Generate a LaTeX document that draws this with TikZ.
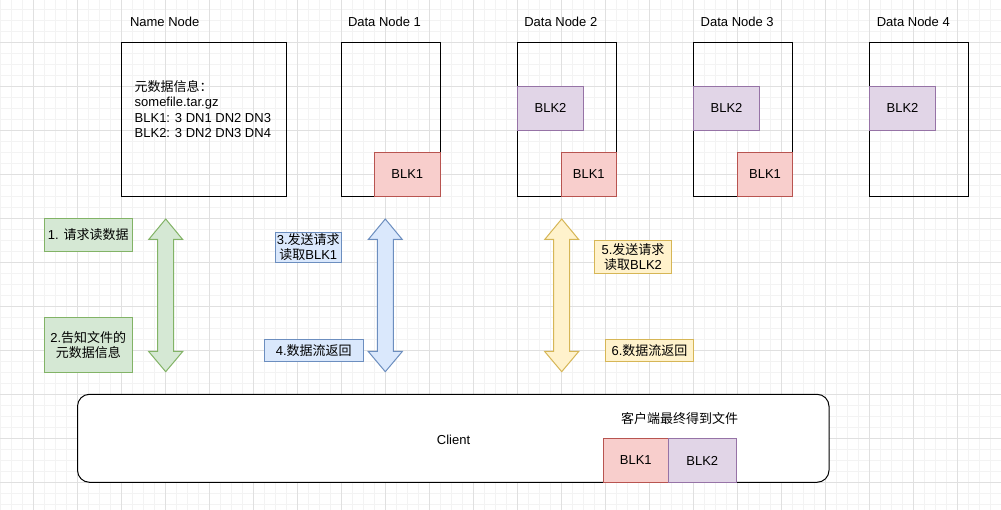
\documentclass[tikz,border=0pt]{standalone}
\usepackage{fontspec}
\setmainfont{Liberation Sans}
\newfontfamily\cjk{Noto Sans CJK SC}
\newcommand{\zh}[1]{{\cjk #1}}

\definecolor{gridmajor}{HTML}{E0E0E0}
\definecolor{gridminor}{HTML}{F3F3F3}
\definecolor{redfill}{HTML}{F8CECC}
\definecolor{redline}{HTML}{B85450}
\definecolor{purplefill}{HTML}{E1D5E7}
\definecolor{purpleline}{HTML}{9673A6}
\definecolor{greenfill}{HTML}{D5E8D4}
\definecolor{greenline}{HTML}{82B366}
\definecolor{bluefill}{HTML}{DAE8FC}
\definecolor{blueline}{HTML}{6C8EBF}
\definecolor{yellowfill}{HTML}{FFF2CC}
\definecolor{yellowline}{HTML}{D6B656}

\begin{document}
\begin{tikzpicture}[x=1pt,y=-1pt,
    every node/.style={font=\fontsize{13}{15.5}\selectfont},
    server/.style={draw,line width=1pt,inner sep=0pt,minimum height=154},
    blkone/.style={draw=redline,fill=redfill,line width=1pt,inner sep=0pt,minimum height=44},
    blktwo/.style={draw=purpleline,fill=purplefill,line width=1pt,inner sep=0pt,minimum height=44},
    note/.style={line width=1pt,inner sep=0pt,align=center}]

    \useasboundingbox (0,0) rectangle (1001,510);
    \fill[white] (0,0) rectangle (1001,510);

    % grid
    \foreach \x in {0,11,...,1001} \draw[gridminor,line width=1pt] (\x,0) -- (\x,510);
    \foreach \y in {9.5,20.5,...,510} \draw[gridminor,line width=1pt] (0,\y) -- (1001,\y);
    \foreach \x in {33,77,...,1001} \draw[gridmajor,line width=1pt] (\x,0) -- (\x,510);
    \foreach \y in {42.5,86.5,...,510} \draw[gridmajor,line width=1pt] (0,\y) -- (1001,\y);

    % servers
    \node[server,minimum width=165.4] (nn) at (204,119.3) {};
    \node[server,minimum width=98.6] (dn1) at (391,119.3) {};
    \node[server,minimum width=99] (dn2) at (566.8,119.3) {};
    \node[server,minimum width=99.4] (dn3) at (743,119.3) {};
    \node[server,minimum width=99.4] (dn4) at (919,119.3) {};

    \node (nntitle) at (164.7,21.7) {Name Node};
    \node (dn1title) at (384.5,21.7) {Data Node 1};
    \node (dn2title) at (560.8,21.7) {Data Node 2};
    \node (dn3title) at (737.2,21.7) {Data Node 3};
    \node (dn4title) at (913.3,21.7) {Data Node 4};

    \node[anchor=west,align=left,inner sep=0pt] (meta) at (134.5,109)
        {\zh{元数据信息：}\\somefile.tar.gz\\BLK1: 3 DN1 DN2 DN3\\BLK2: 3 DN2 DN3 DN4};

    % blocks
    \node[blkone,minimum width=66] (dn1b1) at (407.3,174.3) {BLK1};
    \node[blktwo,minimum width=66.4] (dn2b2) at (550.5,108.3) {BLK2};
    \node[blkone,minimum width=55] (dn2b1) at (588.8,174.3) {BLK1};
    \node[blktwo,minimum width=66.4] (dn3b2) at (726.5,108.3) {BLK2};
    \node[blkone,minimum width=55.4] (dn3b1) at (765,174.3) {BLK1};
    \node[blktwo,minimum width=66.4] (dn4b2) at (902.5,108.3) {BLK2};

    % double arrows
    \foreach \cx/\fc/\dc in {165.7/greenfill/greenline,385.3/bluefill/blueline,561.7/yellowfill/yellowline}
        \draw[fill=\fc,draw=\dc,line width=1pt,line join=miter]
            (\cx,219) -- (\cx+17,239.5) -- (\cx+8,239.5) -- (\cx+8,351.5) -- (\cx+17,351.5)
            -- (\cx,371.7) -- (\cx-17,351.5) -- (\cx-8,351.5) -- (\cx-8,239.5) -- (\cx-17,239.5) -- cycle;

    % step labels
    \node[note,draw=greenline,fill=greenfill,minimum width=88,minimum height=33.4] (s1) at (88.3,235) {1. \zh{请求读数据}};
    \node[note,draw=greenline,fill=greenfill,minimum width=88,minimum height=55] (s2) at (88.3,344.8) {2.\zh{告知文件的}\\\zh{元数据信息}};
    \node[note,draw=blueline,fill=bluefill,minimum width=66,minimum height=30] (s3) at (308.3,247.3) {3.\zh{发送请求}\\\zh{读取}BLK1};
    \node[note,draw=blueline,fill=bluefill,minimum width=99,minimum height=22.4] (s4) at (313.8,350.5) {4.\zh{数据流返回}};
    \node[note,draw=yellowline,fill=yellowfill,minimum width=77.4,minimum height=32.6] (s5) at (633,257) {5.\zh{发送请求}\\\zh{读取}BLK2};
    \node[note,draw=yellowline,fill=yellowfill,minimum width=87.6,minimum height=22.4] (s6) at (649.5,350.5) {6.\zh{数据流返回}};

    % client
    \node[draw,fill=white,line width=1pt,rounded corners=12,inner sep=0pt,minimum width=751.5,minimum height=88] (client) at (453.25,438.3) {};
    \node (clienttext) at (453.5,440) {Client};
    \node (result) at (679.5,418.3) {\zh{客户端最终得到文件}};
    \node[blkone,minimum width=65.5] (cb1) at (635.75,460.5) {BLK1};
    \node[blktwo,minimum width=67.5] (cb2) at (702.25,460.5) {BLK2};

\end{tikzpicture}
\end{document}
